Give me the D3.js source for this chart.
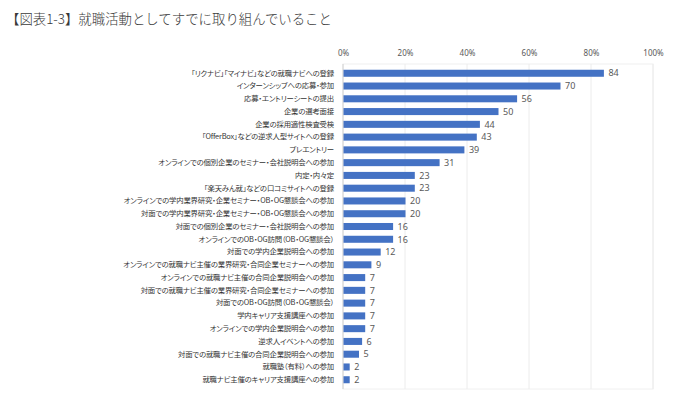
<!DOCTYPE html>
<html>
<head>
<meta charset="utf-8">
<script src="https://cdn.jsdelivr.net/npm/d3@7"></script>
<style>
  body { margin: 0; background: #fff; }
  svg text { font-family: "Noto Sans CJK JP", "Noto Sans", sans-serif; }
  .lbl { font-feature-settings: "palt"; }
</style>
</head>
<body>
<div id="chart"></div>
<script>
/**
 * DATA
 * */
const title = "【図表1-3】就職活動としてすでに取り組んでいること";

const categories = [
  "「リクナビ」「マイナビ」などの就職ナビへの登録",
  "インターンシップへの応募・参加",
  "応募・エントリーシートの提出",
  "企業の選考面接",
  "企業の採用適性検査受検",
  "「OfferBox」などの逆求人型サイトへの登録",
  "プレエントリー",
  "オンラインでの個別企業のセミナー・会社説明会への参加",
  "内定・内々定",
  "「楽天みん就」などの口コミサイトへの登録",
  "オンラインでの学内業界研究・企業セミナー・OB・OG懇談会への参加",
  "対面での学内業界研究・企業セミナー・OB・OG懇談会への参加",
  "対面での個別企業のセミナー・会社説明会への参加",
  "オンラインでのOB・OG訪問（OB・OG懇談会）",
  "対面での学内企業説明会への参加",
  "オンラインでの就職ナビ主催の業界研究・合同企業セミナーへの参加",
  "オンラインでの就職ナビ主催の合同企業説明会への参加",
  "対面での就職ナビ主催の業界研究・合同企業セミナーへの参加",
  "対面でのOB・OG訪問（OB・OG懇談会）",
  "学内キャリア支援講座への参加",
  "オンラインでの学内企業説明会への参加",
  "逆求人イベントへの参加",
  "対面での就職ナビ主催の合同企業説明会への参加",
  "就職塾（有料）への参加",
  "就職ナビ主催のキャリア支援講座への参加"
];

const values = [84, 70, 56, 50, 44, 43, 39, 31, 23, 23, 20, 20, 16, 16, 12, 9, 7, 7, 7, 7, 7, 6, 5, 2, 2];

const tickValues = [0, 20, 40, 60, 80, 100];

/**
 * CONSTANTS
 * */
const width = 680,
  height = 412,
  margin = { top: 64, bottom: 23, left: 343, right: 27 };

const svg = d3.select("#chart")
  .append("svg")
  .attr("width", width)
  .attr("height", height);

// title
svg.append("text")
  .attr("x", 6)
  .attr("y", 24)
  .attr("fill", "#3a3a3a")
  .style("font-size", "13.4px")
  .style("font-weight", "300")
  .text(title);

const x = d3.scaleLinear()
  .domain([0, 100])
  .range([margin.left, width - margin.right]);

const y = d3.scaleBand()
  .domain(categories)
  .range([margin.top, height - margin.bottom])
  .padding(0.45);

// plot frame + gridlines
svg.append("rect")
  .attr("x", x(0))
  .attr("y", margin.top)
  .attr("width", x(100) - x(0))
  .attr("height", height - margin.bottom - margin.top)
  .attr("fill", "none")
  .attr("stroke", "#f0f0f0");

svg.append("g")
  .selectAll("line")
  .data(tickValues.slice(1))
  .join("line")
  .attr("x1", d => x(d))
  .attr("x2", d => x(d))
  .attr("y1", margin.top)
  .attr("y2", height - margin.bottom)
  .attr("stroke", "#ececec");

// top axis labels
const xAxis = d3.axisTop(x)
  .tickValues(tickValues)
  .tickFormat(d => d + "%")
  .tickSize(0)
  .tickPadding(0);

svg.append("g")
  .attr("transform", `translate(0, 56)`)
  .call(xAxis)
  .call(g => g.select(".domain").remove())
  .call(g => g.selectAll("text")
    .attr("fill", "#595959")
    .style("font-size", "8px")
    .style("font-family", "'Noto Sans', sans-serif"));

// left axis line
svg.append("line")
  .attr("x1", x(0))
  .attr("x2", x(0))
  .attr("y1", margin.top)
  .attr("y2", height - margin.bottom)
  .attr("stroke", "#d0d0d0");

// category labels
const yAxis = d3.axisLeft(y)
  .tickSize(0)
  .tickPadding(9);

svg.append("g")
  .attr("transform", `translate(${x(0)}, 0)`)
  .call(yAxis)
  .call(g => g.select(".domain").remove())
  .call(g => g.selectAll("text")
    .attr("class", "lbl")
    .attr("fill", "#333")
    .style("font-size", "7.4px")
    .style("letter-spacing", "-0.2px"));

// bars
const rows = categories.map((c, i) => ({ cat: c, val: values[i] }));

svg.selectAll(".bar")
  .data(rows)
  .join("rect")
  .attr("class", "bar")
  .attr("x", x(0) + 0.5)
  .attr("y", d => y(d.cat))
  .attr("width", d => x(d.val) - x(0))
  .attr("height", y.bandwidth())
  .attr("fill", "#4472C4");

svg.selectAll(".val")
  .data(rows)
  .join("text")
  .attr("class", "val")
  .attr("x", d => x(d.val) + 5)
  .attr("y", d => y(d.cat) + y.bandwidth() / 2)
  .attr("dy", "0.36em")
  .attr("fill", "#595959")
  .style("font-size", "9px")
  .style("font-family", "'Noto Sans', sans-serif")
  .text(d => d.val);
</script>
</body>
</html>
